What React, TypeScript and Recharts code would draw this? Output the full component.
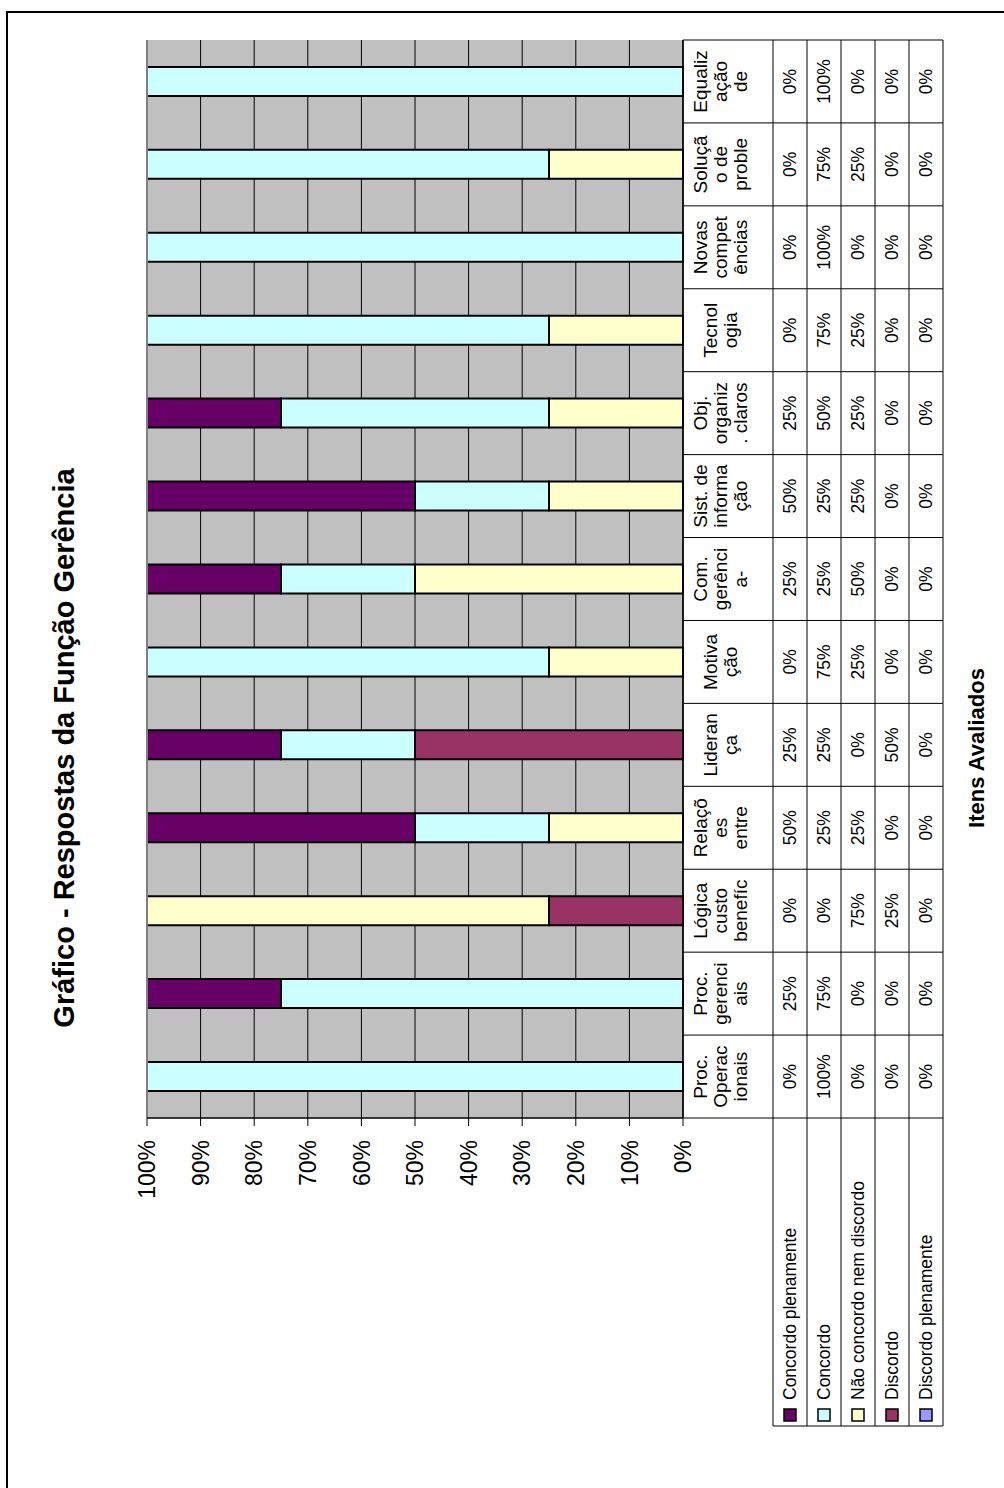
import { BarChart, Bar, XAxis, YAxis, CartesianGrid, ReferenceLine } from 'recharts'

const FONT = '"Liberation Sans", Arial, Helvetica, sans-serif'

// categories in axis order (left to right before the chart is turned)
const categories = [
  'Proc. Operacionais',
  'Proc. gerenciais',
  'Lógica custo benefíc',
  'Relações entre',
  'Liderança',
  'Motivação',
  'Com. gerência-',
  'Sist. de informação',
  'Obj. organiz. claros',
  'Tecnologia',
  'Novas competências',
  'Solução de proble',
  'Equalização de',
]

// how each name wraps inside its data-table cell
const categoryLines = [
  ['Proc.', 'Operac', 'ionais'],
  ['Proc.', 'gerenci', 'ais'],
  ['Lógica', 'custo', 'benefíc'],
  ['Relaçõ', 'es', 'entre'],
  ['Lideran', 'ça'],
  ['Motiva', 'ção'],
  ['Com.', 'gerênci', 'a-'],
  ['Sist. de', 'informa', 'ção'],
  ['Obj.', 'organiz', '. claros'],
  ['Tecnol', 'ogia'],
  ['Novas', 'compet', 'ências'],
  ['Soluçã', 'o de', 'proble'],
  ['Equaliz', 'ação', 'de'],
]

const concordoPlenamente = [0, 25, 0, 50, 25, 0, 25, 50, 25, 0, 0, 0, 0]
const concordo = [100, 75, 0, 25, 25, 75, 25, 25, 50, 75, 100, 75, 100]
const naoConcordoNemDiscordo = [0, 0, 75, 25, 0, 25, 50, 25, 25, 25, 0, 25, 0]
const discordo = [0, 0, 25, 0, 50, 0, 0, 0, 0, 0, 0, 0, 0]
const discordoPlenamente = [0, 0, 0, 0, 0, 0, 0, 0, 0, 0, 0, 0, 0]

const yTicks = [0, 10, 20, 30, 40, 50, 60, 70, 80, 90, 100]

// table row order (top to bottom)
const series = [
  { key: 'cp', name: 'Concordo plenamente', color: '#660066', values: concordoPlenamente },
  { key: 'c', name: 'Concordo', color: '#CCFFFF', values: concordo },
  { key: 'n', name: 'Não concordo nem discordo', color: '#FFFFCC', values: naoConcordoNemDiscordo },
  { key: 'd', name: 'Discordo', color: '#993366', values: discordo },
  { key: 'dp', name: 'Discordo plenamente', color: '#9999FF', values: discordoPlenamente },
]

const data = categories.map((name, i) => {
  const row: Record<string, string | number> = { name }
  series.forEach((s) => {
    row[s.key] = s.values[i]
  })
  return row
})

const W = 1488
const H = 1004
const HEADER_H = 90
const ROW_H = 34
const TABLE_H = HEADER_H + ROW_H * series.length
const LEGEND_LEFT = 62

function RowHeaders({ right, y }: { right: number; y: number }) {
  const top = y + HEADER_H
  return (
    <g>
      <line x1={LEGEND_LEFT} y1={top} x2={LEGEND_LEFT} y2={top + ROW_H * series.length} stroke="#000" />
      {series.map((s, r) => (
        <g key={s.key}>
          <line x1={LEGEND_LEFT} y1={top + r * ROW_H} x2={right} y2={top + r * ROW_H} stroke="#000" />
          <rect x={LEGEND_LEFT + 5} y={top + r * ROW_H + 11} width={12} height={12} fill={s.color} stroke="#000" strokeWidth={1.5} />
          <text x={LEGEND_LEFT + 26} y={top + r * ROW_H + 23} fontSize={17.5} fontFamily={FONT} fill="#000">
            {s.name}
          </text>
        </g>
      ))}
      <line x1={LEGEND_LEFT} y1={top + TABLE_H - HEADER_H} x2={right} y2={top + TABLE_H - HEADER_H} stroke="#000" />
    </g>
  )
}

// one column of the data table under each category
function TableColumn(props: any) {
  const { x, y, payload } = props
  const i: number = payload.index ?? props.index
  const half: number = payload.offset || (W - 370 - 40) / categories.length / 2
  const left = x - half
  const right = x + half
  const lines = categoryLines[i]
  return (
    <g>
      <line x1={left} y1={y} x2={left} y2={y + TABLE_H} stroke="#000" />
      {i === categories.length - 1 && <line x1={right} y1={y} x2={right} y2={y + TABLE_H} stroke="#000" />}
      {series.map((s, r) => (
        <line key={s.key} x1={left} y1={y + HEADER_H + r * ROW_H} x2={right} y2={y + HEADER_H + r * ROW_H} stroke="#000" />
      ))}
      <line x1={left} y1={y + TABLE_H} x2={right} y2={y + TABLE_H} stroke="#000" />
      {lines.map((t, k) => (
        <text
          key={k}
          x={x}
          y={y + 44 + (k - (lines.length - 1) / 2) * 20}
          textAnchor="middle"
          fontSize={19}
          fontFamily={FONT}
          fill="#000"
        >
          {t}
        </text>
      ))}
      {series.map((s, r) => (
        <text
          key={s.key}
          x={x}
          y={y + HEADER_H + r * ROW_H + ROW_H / 2 + 6}
          textAnchor="middle"
          fontSize={17.5}
          fontFamily={FONT}
          fill="#000"
        >
          {`${s.values[i]}%`}
        </text>
      ))}
      {i === 0 && <RowHeaders right={left} y={y} />}
    </g>
  )
}

export default function App() {
  return (
    <div style={{ position: 'absolute', left: 0, top: 0, width: 1004, height: 1488, overflow: 'hidden', background: '#fff' }}>
      <div
        style={{
          position: 'absolute',
          left: 6,
          top: 11,
          width: 1100,
          height: 1600,
          borderLeft: '2px solid #000',
          borderTop: '2px solid #000',
        }}
      />
      <div
        style={{
          position: 'absolute',
          left: 0,
          top: 0,
          width: W,
          height: H,
          transformOrigin: '0 0',
          transform: `translateY(${W}px) rotate(-90deg)`,
          fontFamily: FONT,
        }}
      >
        <div
          style={{
            position: 'absolute',
            left: 340,
            width: 800,
            top: 50,
            textAlign: 'center',
            fontSize: 29,
            lineHeight: '29px',
            fontWeight: 'bold',
          }}
        >
          Gráfico - Respostas da Função Gerência
        </div>
        <div
          style={{
            position: 'absolute',
            left: 340,
            width: 800,
            top: 966,
            textAlign: 'center',
            fontSize: 22,
            lineHeight: '22px',
            fontWeight: 'bold',
          }}
        >
          Itens Avaliados
        </div>
        <BarChart
          width={W}
          height={H}
          data={data}
          margin={{ top: 147, right: 40, bottom: 61, left: 310 }}
          barSize={29}
          style={{ fontFamily: FONT }}
        >
          <CartesianGrid vertical={false} stroke="#000" fill="#C0C0C0" />
          <XAxis
            dataKey="name"
            interval={0}
            height={TABLE_H}
            tickLine={false}
            tickSize={0}
            tickMargin={0}
            axisLine={{ stroke: '#000', strokeWidth: 1.5 }}
            tick={TableColumn}
          />
          <YAxis
            width={60}
            domain={[0, 100]}
            ticks={yTicks}
            interval={0}
            tickFormatter={(v: number) => `${v}%`}
            tick={{ fill: '#000', fontSize: 23, fontFamily: FONT }}
            tickLine={{ stroke: '#000' }}
            tickSize={8}
            tickMargin={14}
            axisLine={{ stroke: '#000', strokeWidth: 1.5 }}
          />
          <ReferenceLine y={100} stroke="#808080" strokeWidth={2} />
          {[...series].reverse().map((s) => (
            <Bar
              key={s.key}
              dataKey={s.key}
              name={s.name}
              stackId="a"
              fill={s.color}
              stroke="#000"
              strokeWidth={2}
              isAnimationActive={false}
            />
          ))}
        </BarChart>
      </div>
    </div>
  )
}
